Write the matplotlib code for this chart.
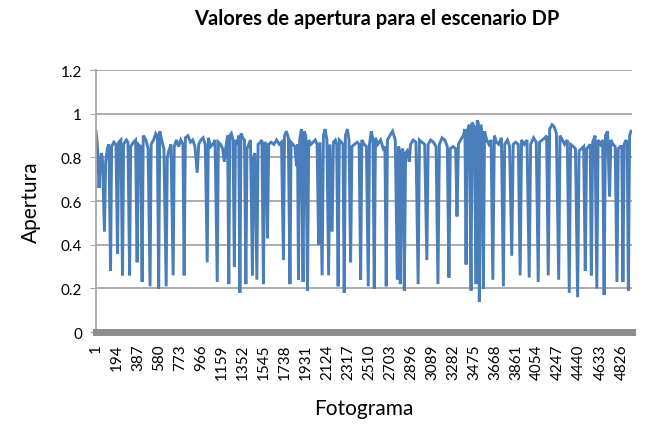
import matplotlib
matplotlib.use("Agg")
import matplotlib.pyplot as plt

plt.rcParams['font.family'] = ['Lato', 'DejaVu Sans']

# Fotograma / apertura (key points of the trace)
fotograma = [
    1, 10, 20, 29, 38, 50, 60, 79, 90, 105, 120, 135, 145, 165, 185, 199, 210, 230,
    245, 255, 280, 295, 310, 320, 345, 365, 379, 390, 410, 425, 435, 460, 480, 498,
    508, 530, 550, 565, 577, 587, 605, 625, 646, 656, 670, 690, 710, 720, 740, 760,
    780, 800, 811, 822, 845, 870, 890, 910, 931, 945, 965, 985, 1005, 1023, 1033, 1055,
    1075, 1095, 1115, 1125, 1145, 1165, 1180, 1195, 1210, 1221, 1230, 1245, 1260, 1272,
    1282, 1300, 1312, 1323, 1333, 1350, 1365, 1378, 1388, 1405, 1420, 1438, 1448, 1460,
    1479, 1490, 1510, 1525, 1539, 1550, 1565, 1576, 1588, 1610, 1635, 1660, 1685, 1705,
    1723, 1733, 1750, 1768, 1783, 1793, 1810, 1828, 1843, 1852, 1861, 1872, 1888, 1903,
    1913, 1928, 1944, 1955, 1975, 1995, 2015, 2032, 2046, 2058, 2078, 2090, 2105, 2122,
    2138, 2150, 2170, 2182, 2200, 2212, 2225, 2236, 2255, 2270, 2281, 2292, 2310, 2325,
    2340, 2352, 2375, 2400, 2418, 2432, 2443, 2465, 2485, 2502, 2513, 2530, 2545, 2557,
    2568, 2590, 2615, 2640, 2655, 2667, 2678, 2700, 2725, 2750, 2769, 2782, 2796, 2808,
    2820, 2833, 2845, 2860, 2879, 2890, 2915, 2940, 2960, 2972, 2995, 3020, 3040, 3052,
    3075, 3100, 3125, 3142, 3155, 3180, 3205, 3228, 3243, 3255, 3280, 3305, 3317, 3330,
    3350, 3375, 3390, 3400, 3410, 3430, 3446, 3455, 3475, 3492, 3502, 3512, 3522, 3535,
    3548, 3559, 3570, 3590, 3610, 3630, 3646, 3660, 3680, 3700, 3725, 3743, 3755, 3780,
    3800, 3820, 3833, 3855, 3880, 3897, 3910, 3935, 3960, 3980, 3993, 4020, 4045, 4063,
    4075, 4100, 4125, 4140, 4155, 4168, 4190, 4210, 4230, 4251, 4263, 4285, 4305, 4330,
    4348, 4360, 4385, 4405, 4425, 4438, 4460, 4480, 4495, 4507, 4525, 4540, 4551, 4563,
    4585, 4601, 4613, 4635, 4655, 4668, 4680, 4700, 4718, 4730, 4750, 4770, 4786, 4798,
    4815, 4830, 4841, 4852, 4870, 4880, 4891, 4902, 4915,
]
apertura = [
    0.92, 0.88, 0.80, 0.66, 0.75, 0.82, 0.80, 0.46, 0.78, 0.84, 0.86, 0.28, 0.85, 0.87, 0.86, 0.36, 0.87, 0.88,
    0.26, 0.86, 0.88, 0.87, 0.26, 0.85, 0.87, 0.88, 0.32, 0.86, 0.85, 0.23, 0.90, 0.88, 0.84, 0.21,
    0.86, 0.88, 0.91, 0.90, 0.20, 0.92, 0.88, 0.84, 0.21, 0.80, 0.83, 0.86, 0.26, 0.85, 0.88, 0.85,
    0.88, 0.86, 0.26, 0.89, 0.90, 0.87, 0.88, 0.85, 0.73, 0.86, 0.88, 0.89, 0.86, 0.32, 0.89, 0.85,
    0.86, 0.88, 0.23, 0.87, 0.86, 0.84, 0.78, 0.85, 0.90, 0.22, 0.90, 0.91, 0.88, 0.30,
    0.88, 0.86, 0.90, 0.18, 0.91, 0.89, 0.88, 0.22, 0.84, 0.86, 0.88, 0.26, 0.80, 0.82,
    0.24, 0.86, 0.87, 0.88, 0.22, 0.87, 0.86, 0.43, 0.86, 0.87, 0.86, 0.88, 0.86, 0.87,
    0.33, 0.90, 0.92, 0.89, 0.22, 0.87, 0.86, 0.85, 0.76, 0.86, 0.24, 0.88, 0.93, 0.23,
    0.92, 0.90, 0.19, 0.88, 0.86, 0.87, 0.88, 0.86, 0.40, 0.87, 0.26, 0.90, 0.93, 0.88,
    0.26, 0.86, 0.46, 0.87, 0.88, 0.86, 0.21, 0.88, 0.87, 0.86, 0.18, 0.90, 0.93, 0.88,
    0.32, 0.85, 0.86, 0.87, 0.86, 0.24, 0.88, 0.86, 0.85, 0.21, 0.86, 0.92, 0.88, 0.20,
    0.89, 0.86, 0.88, 0.84, 0.85, 0.21, 0.88, 0.90, 0.92, 0.88, 0.24, 0.85, 0.22, 0.83,
    0.84, 0.19, 0.82, 0.83, 0.78, 0.86, 0.88, 0.87, 0.22, 0.88, 0.87, 0.86, 0.33, 0.86,
    0.88, 0.87, 0.85, 0.22, 0.86, 0.89, 0.88, 0.85, 0.25, 0.84, 0.85, 0.84, 0.53, 0.86,
    0.88, 0.90, 0.93, 0.31, 0.92, 0.95, 0.19, 0.96, 0.94, 0.22, 0.97, 0.96, 0.14, 0.95,
    0.90, 0.20, 0.92, 0.88, 0.86, 0.88, 0.24, 0.90, 0.87, 0.86, 0.89, 0.21, 0.86, 0.88,
    0.85, 0.35, 0.86, 0.87, 0.86, 0.26, 0.88, 0.86, 0.88, 0.25, 0.86, 0.89, 0.87, 0.23,
    0.87, 0.88, 0.89, 0.90, 0.26, 0.93, 0.95, 0.94, 0.91, 0.24, 0.90, 0.88, 0.86, 0.88,
    0.18, 0.86, 0.85, 0.84, 0.16, 0.83, 0.84, 0.85, 0.28, 0.84, 0.85, 0.86, 0.26, 0.87,
    0.90, 0.20, 0.88, 0.86, 0.88, 0.17, 0.90, 0.92, 0.62, 0.88, 0.86, 0.85, 0.23, 0.84,
    0.85, 0.85, 0.23, 0.86, 0.88, 0.86, 0.19, 0.90, 0.92,
]
tick_frames = list(range(1, 4827, 193))
y_ticks = [0, 0.2, 0.4, 0.6, 0.8, 1.0, 1.2]
y_labels = ['0', '0.2', '0.4', '0.6', '0.8', '1', '1.2']

fig = plt.figure(figsize=(6.71, 4.31), dpi=100)
ax = fig.add_axes([0.143, 0.227, 0.799, 0.608])

ax.plot(fotograma, apertura, color='#4a7ebb', linewidth=2.1, solid_joinstyle='miter')

ax.set_xlim(1, 4925)
ax.set_ylim(0, 1.2)
ax.set_yticks(y_ticks)
ax.set_yticklabels(y_labels, fontsize=11)
ax.set_xticks(tick_frames)
ax.set_xticklabels([str(t) for t in tick_frames], rotation=90, fontsize=11)

ax.grid(axis='y', color='#a6a6a6', linewidth=1.3)
ax.set_axisbelow(True)
for side in ['top', 'right', 'bottom']:
    ax.spines[side].set_visible(False)
ax.spines['left'].set_color('#a6a6a6')
ax.spines['left'].set_linewidth(1.3)
ax.axhline(0, color='#8c8c8c', linewidth=5, clip_on=False, zorder=3)
ax.tick_params(axis='y', length=4, color='#a6a6a6', pad=6)
ax.tick_params(axis='x', length=0, pad=8)

ax.set_xlabel('Fotograma', fontsize=15, labelpad=14)
ax.set_ylabel('Apertura', fontsize=15, labelpad=14)
fig.suptitle('Valores de apertura para el escenario DP', x=0.562, y=0.978,
             fontsize=14.5, fontweight='bold')

fig.savefig('out.png', dpi=100)
